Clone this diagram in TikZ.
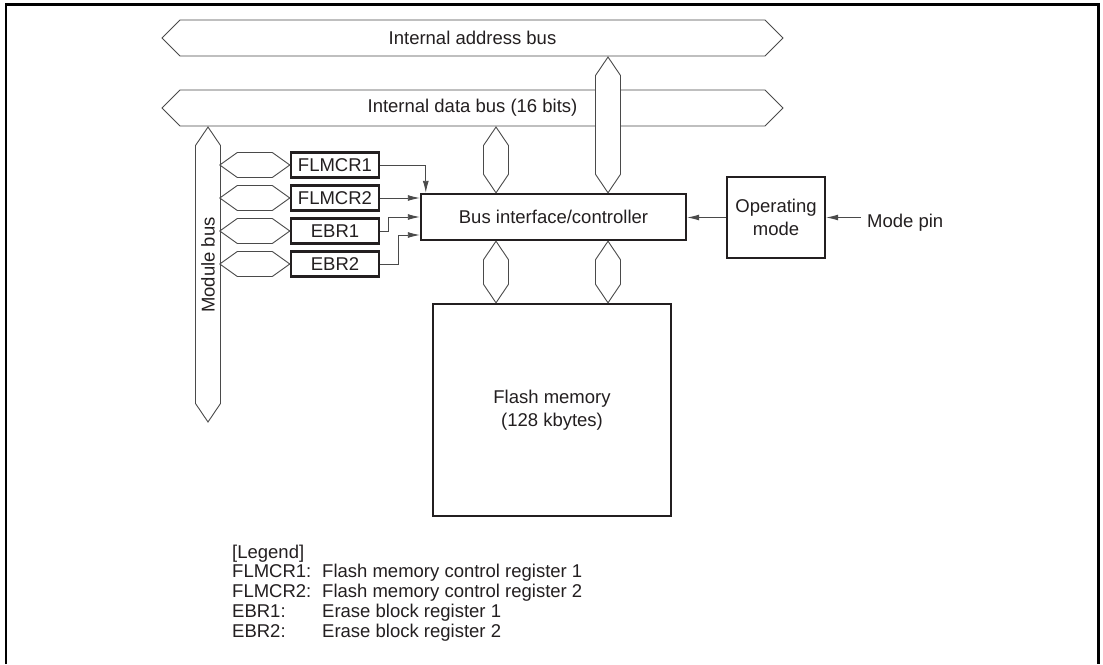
\documentclass[tikz,border=0pt]{standalone}
\usepackage{fontspec}
\setmainfont{Liberation Sans}
\usetikzlibrary{arrows.meta,positioning,calc}
\definecolor{inkgray}{HTML}{231F20}
\definecolor{linegray}{HTML}{4A4A4A}
\tikzset{
  block/.style={draw=inkgray,line width=2.4pt,fill=white,align=center},
  regblock/.style={block,minimum width=88pt,minimum height=25pt},
  busline/.style={draw=linegray,line width=0.9pt,fill=white},
  sigarrow/.style={-{Latex[length=12pt,width=6pt]},draw=linegray,line width=0.9pt},
  legtext/.style={anchor=base west}
}
\newcommand{\vbus}[2]{%
  \draw[busline] (#1) -- ++(12.5,18.5) -- ($(#2)+(12.5,-18.5)$) -- (#2)
    -- ($(#2)+(-12.5,-18.5)$) -- ($(#1)+(-12.5,18.5)$) -- cycle;}

\begin{document}
\begin{tikzpicture}[x=1pt,y=-1pt,
  every node/.style={font=\fontsize{18.5}{23}\selectfont,text=inkgray,inner sep=0pt}]
\useasboundingbox (0,0) rectangle (1103,664);
\fill[white] (0,0) rectangle (1103,664);
\draw[line width=2.7pt] (6,664) -- (6,4.2) -- (1098.7,4.2) -- (1098.7,664);

\draw[busline] (162,38) -- (180,20) -- (765,20) -- (783,38) -- (765,56) -- (180,56) -- cycle;
\draw[busline] (162,108) -- (180,90) -- (765,90) -- (783,108) -- (765,126) -- (180,126) -- cycle;
\node (addrbus) at (472.5,38) {Internal address bus};
\node (databus) at (472.5,108) {Internal data bus (16 bits)};

\coordinate (modtop) at (208,127);
\coordinate (modbot) at (208,422);
\vbus{modtop}{modbot}
\node[rotate=90] (modbus) at (208,265) {Module bus};

\node[block,minimum width=265pt,minimum height=46pt] (ctrl) at (553.5,217) {Bus interface/controller};
\node[block,minimum width=238pt,minimum height=212pt] (flash) at (552,410) {Flash memory\\(128 kbytes)};
\node[block,minimum width=98pt,minimum height=81pt] (opmode) at (776,217.5) {Operating\\mode};
\node[regblock] (flmcr1) at (335,165) {FLMCR1};
\node[regblock,below=5.6pt of flmcr1] (flmcr2) {FLMCR2};
\node[regblock,below=5.6pt of flmcr2] (ebr1) {EBR1};
\node[regblock,below=5.6pt of ebr1] (ebr2) {EBR2};

\coordinate (colA) at (496,0);
\coordinate (colB) at (608,0);
\coordinate (atop) at (608,57);
\coordinate (dtop) at (496,127);
\coordinate (ctA) at (ctrl.north -| colA);
\coordinate (ctB) at (ctrl.north -| colB);
\coordinate (cbA) at (ctrl.south -| colA);
\coordinate (cbB) at (ctrl.south -| colB);
\coordinate (ftA) at (flash.north -| colA);
\coordinate (ftB) at (flash.north -| colB);
\vbus{atop}{ctB}
\vbus{dtop}{ctA}
\vbus{cbA}{ftA}
\vbus{cbB}{ftB}

\foreach \r in {flmcr1,flmcr2,ebr1,ebr2}
  \draw[busline] (\r.west) -- ++(-17.5,-12.5) -- ++(-35,0) -- ++(-17.5,12.5)
    -- ++(17.5,12.5) -- ++(35,0) -- cycle;

\draw[sigarrow] (flmcr1.east) -| ($(ctrl.north west)+(6,0)$);
\draw[sigarrow] (flmcr2.east) -- (flmcr2.east -| ctrl.west);
\draw[sigarrow] (ebr1.east) -- ++(8,0) |- (ctrl.west);
\draw[sigarrow] (ebr2.east) -- ++(18,0) |- ($(ctrl.west)+(0,18)$);
\draw[sigarrow] (opmode.west) -- (opmode.west -| ctrl.east);
\node[anchor=west] (modepin) at (867,223) {Mode pin};
\draw[sigarrow] ($(modepin.west |- opmode.east)+(-6,0)$) -- (opmode.east);

\node[legtext] (legend) at (232,558) {[Legend]};
\foreach \k/\d [count=\i] in {FLMCR1:/Flash memory control register 1,
    FLMCR2:/Flash memory control register 2,
    EBR1:/Erase block register 1,
    EBR2:/Erase block register 2}{
  \node[legtext] (legkey\i) at (232,558+19.8*\i) {\k};
  \node[legtext] (legdesc\i) at (322,558+19.8*\i) {\d};
}
\end{tikzpicture}
\end{document}
